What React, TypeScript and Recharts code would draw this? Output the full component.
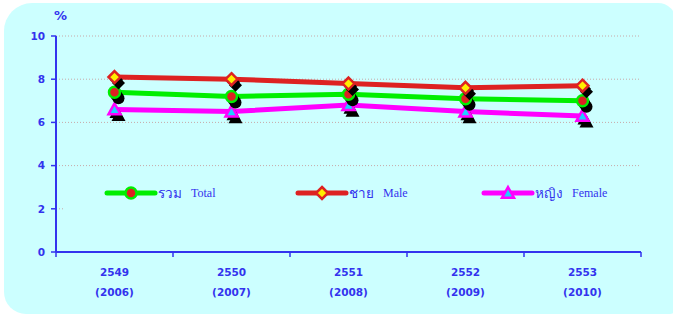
import { LineChart, Line, XAxis, YAxis, CartesianGrid, Legend } from 'recharts'

const thaiYears = ['2549', '2550', '2551', '2552', '2553']
const years = ['2006', '2007', '2008', '2009', '2010']
const total = [7.4, 7.2, 7.3, 7.1, 7.0]
const male = [8.1, 8.0, 7.8, 7.6, 7.7]
const female = [6.6, 6.5, 6.8, 6.5, 6.3]
const yTicks = [0, 2, 4, 6, 8, 10]

const data = thaiYears.map((name, i) => ({
  name,
  year: years[i],
  total: total[i],
  male: male[i],
  female: female[i],
}))

const BLUE = '#3333ee'
const BG = '#ccffff'
const GREEN = '#00ee00'
const RED = '#dd2222'
const MAGENTA = '#ff00ff'

function circleMark(cx: number, cy: number, shadow: boolean) {
  return (
    <>
      {shadow && <circle cx={cx + 4} cy={cy + 6} r={6} fill="#000" />}
      {shadow && <circle cx={cx + 2} cy={cy + 3} r={6} fill="#000" />}
      <circle cx={cx} cy={cy} r={5.5} fill={RED} stroke={GREEN} strokeWidth={2.5} />
    </>
  )
}

function diamondMark(cx: number, cy: number, shadow: boolean) {
  const d = (x: number, y: number, s: number) =>
    `M${x},${y - s}L${x + s},${y}L${x},${y + s}L${x - s},${y}Z`
  return (
    <>
      {shadow && <path d={d(cx + 4, cy + 6, 6.5)} fill="#000" />}
      {shadow && <path d={d(cx + 2, cy + 3, 6.5)} fill="#000" />}
      <path d={d(cx, cy, 6)} fill="#ffee00" stroke={RED} strokeWidth={2.5} />
    </>
  )
}

function triangleMark(cx: number, cy: number, shadow: boolean) {
  const t = (x: number, y: number, s: number) =>
    `M${x},${y - s}L${x + s},${y + s * 0.8}L${x - s},${y + s * 0.8}Z`
  return (
    <>
      {shadow && <path d={t(cx + 4, cy + 6, 7)} fill="#000" />}
      {shadow && <path d={t(cx + 2, cy + 3, 7)} fill="#000" />}
      <path d={t(cx, cy, 6)} fill="#22ccff" stroke={MAGENTA} strokeWidth={2.5} />
    </>
  )
}

const makeDot = (mark: (cx: number, cy: number, s: boolean) => any) => (p: any) => {
  const { cx, cy, index } = p
  if (cx == null || cy == null) return <g key={index} />
  return <g key={index}>{mark(cx, cy, true)}</g>
}

// labels at band centres, tick marks at band edges
function XTick(props: any) {
  const { x, y, payload, index, visibleTicksCount } = props
  const half = payload.offset || 0
  const last = index === visibleTicksCount - 1
  return (
    <g>
      <line x1={x - half} x2={x - half} y1={y - 8} y2={y - 3} stroke={BLUE} strokeWidth={1.5} />
      {last && <line x1={x + half} x2={x + half} y1={y - 8} y2={y - 3} stroke={BLUE} strokeWidth={1.5} />}
      <text x={x} textAnchor="middle" fill={BLUE} fontSize={10.5} fontWeight="bold" fontFamily="DejaVu Sans">
        <tspan x={x} y={y + 16}>{payload.value}</tspan>
        <tspan x={x} y={y + 36}>({years[index]})</tspan>
      </text>
    </g>
  )
}

const legendItems = [
  { th: 'รวม', en: 'Total', color: GREEN, mark: circleMark, left: 41 },
  { th: 'ชาย', en: 'Male', color: RED, mark: diamondMark, left: 232 },
  { th: 'หญิง', en: 'Female', color: MAGENTA, mark: triangleMark, left: 418 },
]

function LegendBox() {
  return (
    <div style={{ position: 'relative', width: 580, height: 44, background: BG }}>
      {legendItems.map((it) => (
        <div key={it.en} style={{ position: 'absolute', left: it.left, top: 10, display: 'flex', alignItems: 'center' }}>
          <svg width={54} height={20} style={{ display: 'block' }}>
            <line x1={3} y1={10} x2={51} y2={10} stroke={it.color} strokeWidth={5} strokeLinecap="round" />
            {it.mark(27, 10, false)}
          </svg>
          <span style={{ color: BLUE, fontFamily: 'Noto Sans, DejaVu Sans', fontSize: 13.5 }}>{it.th}</span>
          <span style={{ color: BLUE, fontFamily: 'Liberation Serif', fontSize: 12, marginLeft: 9 }}>{it.en}</span>
        </div>
      ))}
    </div>
  )
}

export default function App() {
  return (
    <div
      style={{
        position: 'absolute',
        left: 0,
        top: 0,
        width: 673,
        height: 317,
        background: '#fff',
        overflow: 'hidden',
      }}
    >
      <div
        style={{
          position: 'absolute',
          left: 4,
          top: 3,
          width: 672,
          height: 311,
          background: BG,
          borderRadius: '28px 18px 6px 22px',
        }}
      />
      <div
        style={{
          position: 'absolute',
          left: 54,
          top: 8,
          color: BLUE,
          fontFamily: 'DejaVu Sans',
          fontWeight: 'bold',
          fontSize: 13,
        }}
      >
        %
      </div>
      <div style={{ position: 'absolute', left: 0, top: 0 }}>
        <LineChart width={673} height={317} data={data} margin={{ top: 36, right: 32, bottom: 0, left: 0 }}>
          <CartesianGrid vertical={false} stroke="#c8a8a8" strokeDasharray="1 2" />
          <XAxis
            dataKey="name"
            scale="band"
            height={65}
            axisLine={{ stroke: BLUE, strokeWidth: 2 }}
            tickLine={false}
            tick={<XTick />}
            interval={0}
          />
          <YAxis
            width={56}
            domain={[0, 10]}
            ticks={yTicks}
            tickSize={5}
            tickMargin={6}
            axisLine={{ stroke: BLUE, strokeWidth: 2 }}
            tickLine={{ stroke: BLUE, strokeWidth: 1.5 }}
            tick={{ fill: BLUE, fontSize: 10.5, fontWeight: 'bold', fontFamily: 'DejaVu Sans' }}
          />
          <Legend
            layout="horizontal"
            verticalAlign="middle"
            content={() => <LegendBox />}
            wrapperStyle={{ position: 'absolute', left: 63, top: 172, width: 580, height: 44 }}
          />
          <Line
            dataKey="female"
            stroke={MAGENTA}
            strokeWidth={5}
            dot={makeDot(triangleMark)}
            activeDot={false}
            isAnimationActive={false}
          />
          <Line
            dataKey="total"
            stroke={GREEN}
            strokeWidth={5}
            dot={makeDot(circleMark)}
            activeDot={false}
            isAnimationActive={false}
          />
          <Line
            dataKey="male"
            stroke={RED}
            strokeWidth={5}
            dot={makeDot(diamondMark)}
            activeDot={false}
            isAnimationActive={false}
          />
        </LineChart>
      </div>
    </div>
  )
}
